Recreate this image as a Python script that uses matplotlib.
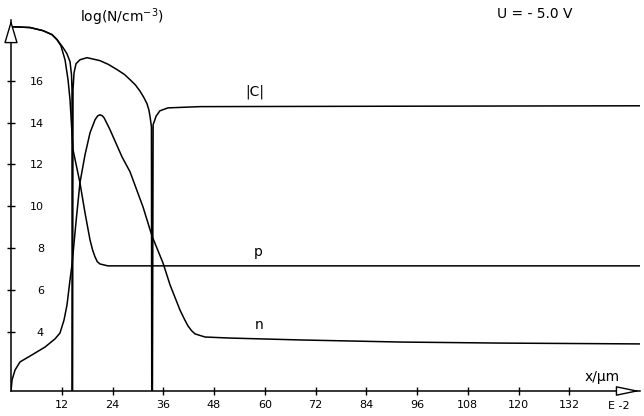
import matplotlib
matplotlib.use("Agg")
import matplotlib.pyplot as plt

# log10 concentrations (x in units of 1e-2 um)
c_x = [0, 4.5, 7.6, 9.7, 10.9, 12.3, 13.2, 13.95, 14.3, 14.42, 14.45, 14.55,
       14.66, 14.9, 15.37, 16.3, 17.97, 21.0, 23.0, 25.06, 26.8, 28.13, 29.4,
       30.5, 31.4, 32.15, 32.6, 32.86, 33.2, 33.28, 33.42, 33.6, 34.0, 34.28,
       35.2, 37.1, 44.7, 92.0, 148.7]
c_y = [18.58, 18.54, 18.39, 18.2, 17.96, 17.58, 17.3, 16.91, 16.29, 15.57, 0, 0,
       15.57, 16.38, 16.81, 17.0, 17.1, 16.96, 16.78, 16.53, 16.3, 16.05, 15.8,
       15.5, 15.2, 14.9, 14.6, 14.3, 13.8, 0, 0, 13.9, 14.12, 14.3,
       14.56, 14.7, 14.76, 14.78, 14.8]

p_x = [0, 4.5, 7.57, 9.7, 10.87, 11.8, 12.77, 13.48, 13.95, 14.3, 14.66,
       16.3, 17.5, 18.68, 19.3, 19.86, 20.4, 21.04, 22.9, 148.7]
p_y = [18.58, 18.54, 18.39, 18.2, 17.96, 17.67, 17.0, 16.05, 15.1, 13.9, 12.7,
       11.12, 9.68, 8.39, 7.9, 7.58, 7.35, 7.24, 7.15, 7.15]

n_x = [0, 0.24, 0.95, 2.13, 4.5, 8.04, 10.4, 11.58, 12.53, 13.24, 13.95,
       14.42, 15.37, 16.3, 17.5, 18.68, 19.86, 20.5, 21.04, 21.6, 22.0, 23.4,
       26.24, 28.13, 31.2, 33.33, 35.93, 37.6, 39.95, 41.0, 41.84, 42.7, 43.5,
       45.86, 51.8, 68.3, 92.0, 115.6, 148.7]
n_y = [1.17, 1.69, 2.17, 2.56, 2.84, 3.27, 3.66, 3.94, 4.56, 5.28, 6.48,
       7.2, 9.25, 11.12, 12.46, 13.51, 14.13, 14.32, 14.37, 14.32, 14.23, 13.66,
       12.36, 11.65, 9.97, 8.58, 7.29, 6.24, 5.04, 4.6, 4.28, 4.05, 3.9,
       3.75, 3.7, 3.61, 3.51, 3.46, 3.42]

x_ticks = [12, 24, 36, 48, 60, 72, 84, 96, 108, 120, 132]
y_ticks = [4, 6, 8, 10, 12, 14, 16]

W, H = 644, 416
fig = plt.figure(figsize=(W / 100, H / 100), dpi=100)
ax = fig.add_axes([11 / W, 1 - 391 / H, 629 / W, 371 / H])
ax.set_xlim(0, 148.7)
ax.set_ylim(1.17, 18.9)

for xs, ys in [(c_x, c_y), (p_x, p_y), (n_x, n_y)]:
    ax.plot(xs, ys, color="black", lw=1.1)

ax.spines["top"].set_visible(False)
ax.spines["right"].set_visible(False)
for s in ("left", "bottom"):
    ax.spines[s].set_linewidth(1.1)

ax.set_xticks(x_ticks)
ax.set_xticklabels([str(v) for v in x_ticks])
ax.set_yticks(y_ticks)
ax.set_yticklabels([str(v) for v in y_ticks])
ax.tick_params(axis="both", direction="inout", length=6, width=1.0, labelsize=8)
ax.tick_params(axis="x", pad=3.5)
ax.tick_params(axis="y", pad=-26.8)

# hollow arrow heads on both axes
ax.annotate("", xy=(1.0, 0), xycoords="axes fraction", xytext=(0.965, 0),
            arrowprops=dict(arrowstyle="-|>,head_length=1.45,head_width=0.3",
                            fc="white", ec="black", lw=1.0, mutation_scale=10,
                            shrinkA=0, shrinkB=0))
ax.annotate("", xy=(0, 1.0), xycoords="axes fraction", xytext=(0, 0.94),
            arrowprops=dict(arrowstyle="-|>,head_length=1.45,head_width=0.43",
                            fc="white", ec="black", lw=1.0, mutation_scale=10,
                            shrinkA=0, shrinkB=0))

def label(px, py, s, size=10):
    fig.text(px / W, 1 - py / H, s, ha="center", va="center", fontsize=size)

label(122, 17, "log(N/cm$^{-3}$)")
label(535, 14, "U = - 5.0 V")
label(255, 92, "|C|")
label(258, 252, "p")
label(259, 325, "n")
label(602, 377, "x/μm")
label(619, 406, "E -2", 8)

fig.savefig("out.png", dpi=100)
